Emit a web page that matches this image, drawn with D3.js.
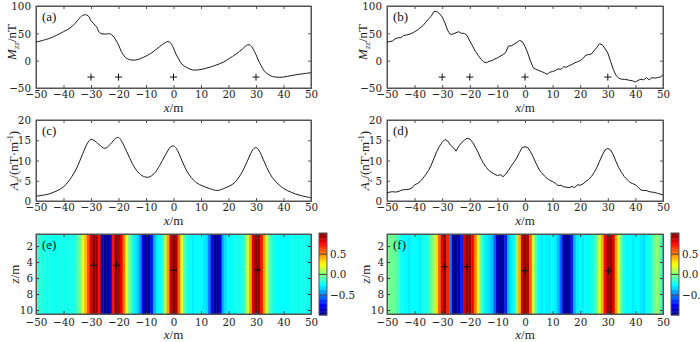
<!DOCTYPE html>
<html><head><meta charset="utf-8">
<script src="https://cdn.jsdelivr.net/npm/d3@7/dist/d3.min.js"></script>
<style>
body{margin:0;background:#fff}svg{display:block}
svg text{font-family:'Liberation Serif','Times New Roman',serif !important;}
svg text.num{font-family:'DejaVu Serif',serif !important;font-stretch:condensed;}
</style>
</head><body>
<svg id="c" width="700" height="342"></svg>
<script>
// ---------------- data ----------------
const xTicks = [-50,-40,-30,-20,-10,0,10,20,30,40,50];
const mTicks = [-50,0,50,100];
const aTicks = [0,5,10,15,20];
const zTicks = [2,4,6,8,10];
const cbTicks = [-0.5,0.0,0.5];
const sourceX = [-30,-20,0,30];

const aX = [-50,-45,-40,-37,-35,-33,-32,-31,-30,-28,-27,-26,-24,-23,-22,-21,-20,-19,-18,-17,-15,-13,-11,-8,-5,-3,-2,-1,0,1,2,3,5,7,10,15,18,20,23,25,27,28,29,30,31,32,33,35,37,40,43,47,50];
const aY = [34,41,53,62,73,83,84,82,73,62,52,49,49,49,45,38,29,17,9,4,1,2,6,14,26,33,35,32,23,11,2,-6,-13,-17,-16,-9,-3,3,13,21,29,28,21,11,-1,-10,-19,-27,-30,-30,-27,-24,-22];

const bX = d3.range(-50,51);
const bY = [34,35,36,40,42,42,46,47,48,50,53,56,60,64,70,76,81,90,90,86,80,69,55,48,49,51,53,50,50,46,36,27,17,10,3,-2,-4,-1,0,3,5,8,11,15,27,27,30,33,37,35,26,14,-1,-13,-16,-18,-20,-22,-25,-21,-20,-18,-15,-16,-11,-12,-9,-7,-4,-2,0,4,10,11,12,18,24,31,29,22,14,-1,-16,-27,-32,-34,-34,-35,-36,-37,-39,-36,-34,-35,-31,-35,-31,-32,-31,-30,-26];

const cX = [-50,-45,-40,-37,-35,-33,-31,-30,-29,-27,-25,-23,-21,-20,-19,-17,-15,-13,-11,-9,-7,-5,-3,-1,0,1,3,5,8,10,13,16,19,22,25,27,29,30,31,33,35,37,40,43,46,50];
const cY = [1.2,1.8,3.5,6,8.4,11.7,14.6,15.2,15,13.9,13,14,15.5,15.7,14.9,12.2,9.3,7.2,6.1,5.9,6.8,8.8,11.3,13.4,13.6,13,10.1,7.2,4.7,3.9,3.1,2.6,3.3,4.4,7.2,10.1,12.8,13.2,12.6,9.7,6.8,4.9,3.1,2.1,1.4,0.8];

const dX = d3.range(-50,51);
const dY = [2.0,2.2,2.3,2.2,2.3,2.6,2.8,2.8,2.9,3.2,4.0,4.3,4.8,5.6,6.5,7.5,8.8,10.5,12.2,13.5,14.5,15.2,14.8,13.8,13.2,12.3,13.5,14.4,15.0,15.5,15.3,14.5,13.3,12.0,10.5,9.3,8.3,7.5,7.0,6.6,6.3,6.5,6.0,6.6,7.6,8.6,9.6,10.6,12.0,13.2,13.4,13.2,12.2,10.8,9.3,7.9,7.0,6.2,5.6,5.1,4.8,4.4,3.8,3.9,3.5,3.4,3.3,3.6,3.3,4.0,3.9,4.2,4.8,5.3,6.0,7.0,8.2,9.8,11.3,12.6,13.0,12.6,11.4,9.7,8.2,7.0,6.0,5.3,4.6,4.3,4.0,3.4,2.7,2.6,2.6,2.3,2.2,2.1,1.9,1.7,1.5];

const gridX = d3.range(-50,51);
const gridZ = d3.range(1,11);
const eVals = [-0.14,-0.16,-0.18,-0.2,-0.21,-0.22,-0.22,-0.22,-0.23,-0.23,-0.23,-0.22,-0.22,-0.21,-0.2,-0.12,0.0,0.2,0.38,0.6,0.82,0.96,0.95,0.72,-0.88,-0.98,-0.98,-0.8,0.72,0.96,0.95,0.78,0.5,0.22,-0.02,-0.2,-0.28,-0.34,-0.5,-0.82,-0.97,-0.97,-0.72,-0.4,-0.28,-0.25,-0.17,0.08,0.45,0.85,0.98,0.9,0.55,0.18,-0.08,-0.2,-0.25,-0.27,-0.25,-0.24,-0.25,-0.27,-0.32,-0.5,-0.8,-0.97,-0.97,-0.75,-0.42,-0.3,-0.25,-0.24,-0.23,-0.23,-0.21,-0.18,-0.08,0.15,0.45,0.8,0.97,0.96,0.72,0.42,0.12,-0.1,-0.19,-0.22,-0.24,-0.25,-0.26,-0.25,-0.24,-0.23,-0.23,-0.22,-0.22,-0.22,-0.21,-0.21,-0.21];
const fVals = [-0.02,-0.02,-0.04,-0.06,-0.12,-0.22,-0.26,-0.24,-0.27,-0.25,-0.26,-0.24,-0.27,-0.23,-0.21,-0.15,-0.05,0.1,0.3,0.55,0.8,0.96,0.7,-0.5,-0.95,-0.98,-0.9,-0.7,0.8,0.96,0.95,0.75,0.5,0.2,-0.02,-0.22,-0.29,-0.31,-0.36,-0.55,-0.88,-0.98,-0.95,-0.7,-0.38,-0.29,-0.22,0.05,0.4,0.85,0.97,0.9,0.55,0.15,-0.12,-0.26,-0.29,-0.24,-0.27,-0.29,-0.25,-0.29,-0.36,-0.55,-0.88,-0.97,-0.95,-0.7,-0.38,-0.29,-0.26,-0.27,-0.24,-0.26,-0.21,-0.17,-0.06,0.15,0.4,0.75,0.95,0.97,0.8,0.45,0.15,-0.1,-0.21,-0.26,-0.25,-0.28,-0.26,-0.24,-0.27,-0.31,-0.26,-0.21,-0.12,-0.02,0.02,-0.08,-0.16];
const eSrcX = [-29,-20.7,0,30.5], eSrcZ = [4.4,4.4,5,5];
const fSrcX = [-29,-21,0,30.3], fSrcZ = [4.6,4.6,5.1,5.1];

// ---------------- drawing ----------------
const svg = d3.select('#c');
const FS = 12.5, NFS = 11.5;
const AX = '#555';
const cols = [{x0:36,x1:311},{x0:387,x1:663}];
const rows = [{y0:6,y1:88},{y0:120,y1:201},{y0:234,y1:314}];

function jet(t){
  t = Math.max(0, Math.min(1, t));
  const c = v => Math.round(255*Math.max(0, Math.min(1, v)));
  return `rgb(${c(1.5-Math.abs(4*t-3))},${c(1.5-Math.abs(4*t-2))},${c(1.5-Math.abs(4*t-1))})`;
}
const cScale = d3.scaleSequential(jet).domain([-1,1]);
const cQuant = v => cScale(Math.round(v*32)/32);

function styleAxis(a, tickCol){
  a.select('.domain').attr('stroke',AX);
  a.selectAll('.tick line').attr('stroke',tickCol||AX);
  a.selectAll('text').attr('class','num').attr('font-size',NFS).attr('fill','#222');
}

function axes(g, x, y, yt, col, row, xBase, yEnd, tickCol){
  const len = 3;
  const bx = g.append('g').attr('transform',`translate(0,${row.y1})`)
    .call(d3.axisBottom(x).tickValues(xTicks).tickSize(-len).tickFormat(d3.format('d')));
  bx.selectAll('.tick text').attr('y',xBase).attr('dy',0);
  const tx = g.append('g').attr('transform',`translate(0,${row.y0})`)
    .call(d3.axisTop(x).tickValues(xTicks).tickSize(-len).tickFormat(''));
  const ly = g.append('g').attr('transform',`translate(${col.x0},0)`)
    .call(d3.axisLeft(y).tickValues(yt).tickSize(-len).tickFormat(d3.format('d')));
  ly.selectAll('.tick text').attr('x',-yEnd);
  const ry = g.append('g').attr('transform',`translate(${col.x1},0)`)
    .call(d3.axisRight(y).tickValues(yt).tickSize(-len).tickFormat(''));
  [bx,tx,ly,ry].forEach(a=>styleAxis(a,tickCol));
  g.append('rect').attr('x',col.x0).attr('y',row.y0).attr('width',col.x1-col.x0).attr('height',row.y1-row.y0)
    .attr('fill','none').attr('stroke',AX).attr('stroke-width',1);
}

function xlabel(g, col, yb){
  const t = g.append('text').attr('x',(col.x0+col.x1)/2).attr('y',yb).attr('text-anchor','middle')
    .attr('font-size',FS+0.5).attr('fill','#222');
  t.append('tspan').attr('font-style','italic').text('x');
  t.append('tspan').text('/m');
}
function panelTag(g, col, row, s){
  g.append('text').attr('x',col.x0+6).attr('y',row.y0+15).attr('font-size',FS+0.5)
    .attr('fill','#111').text(s);
}
function cross(g, px, py){
  g.append('path').attr('d',`M${px-3.5},${py}H${px+3.5}M${px},${py-3.5}V${py+3.5}`).attr('stroke','#111').attr('stroke-width',1);
}

function linePanel(ci, ri, X, Y, dom, yt, tag, ylab, curve, marks){
  const col = cols[ci], row = rows[ri];
  const g = svg.append('g');
  const x = d3.scaleLinear().domain([-50,50]).range([col.x0,col.x1]);
  const y = d3.scaleLinear().domain(dom).range([row.y1,row.y0]);
  axes(g, x, y, yt, col, row, 10, 5);
  const pts = X.map((v,i)=>[v,Y[i]]);
  g.append('path').datum(pts).attr('fill','none').attr('stroke','#1a1a1a').attr('stroke-width',1)
    .attr('d', d3.line().x(d=>x(d[0])).y(d=>y(d[1])).curve(curve));
  if (marks) sourceX.forEach(s=>cross(g, x(s), y(-30)));
  panelTag(g, col, row, tag);
  xlabel(g, col, row.y1+24);
  ylab(g, col.x0-20, (row.y0+row.y1)/2);
}

function ylabM(g, cx, cy){
  const t = g.append('text').attr('transform',`translate(${cx},${cy-5}) rotate(-90)`).attr('text-anchor','middle')
    .attr('font-size',FS+0.5).attr('fill','#222');
  t.append('tspan').attr('font-style','italic').text('M');
  t.append('tspan').attr('font-style','italic').attr('font-size',9).attr('dy',3).text('zz');
  t.append('tspan').attr('dy',-3).text('/nT');
}
function ylabA(g, cx, cy){
  const t = g.append('text').attr('transform',`translate(${cx+2},${cy}) rotate(-90)`).attr('text-anchor','middle')
    .attr('font-size',FS+0.5).attr('fill','#222');
  t.append('tspan').attr('font-style','italic').text('A');
  t.append('tspan').attr('font-style','italic').attr('font-size',9).attr('dy',3).text('z');
  t.append('tspan').attr('dy',-3).text('/(nT·m');
  t.append('tspan').attr('font-size',8).attr('dy',-5).text('-1');
  t.append('tspan').attr('dy',5).text(')');
}
function ylabZ(g, cx, cy){
  const t = g.append('text').attr('transform',`translate(${cx},${cy}) rotate(-90)`).attr('text-anchor','middle')
    .attr('font-size',FS+0.5).attr('fill','#222');
  t.append('tspan').attr('font-style','italic').text('z');
  t.append('tspan').text('/m');
}

linePanel(0,0,aX,aY,[-50,100],mTicks,'(a)',ylabM,d3.curveCatmullRom,true);
linePanel(1,0,bX,bY,[-50,100],mTicks,'(b)',ylabM,d3.curveLinear,true);
linePanel(0,1,cX,cY,[0,20],aTicks,'(c)',ylabA,d3.curveCatmullRom,false);
linePanel(1,1,dX,dY,[0,20],aTicks,'(d)',ylabA,d3.curveLinear,false);

function heatPanel(ci, vals, tag, sx, sz){
  const col = cols[ci], row = rows[2];
  const g = svg.append('g');
  const x = d3.scaleLinear().domain([-50,50]).range([col.x0,col.x1]);
  const z = d3.scaleLinear().domain([0.5,10.5]).range([row.y0,row.y1]);
  const cells = [];
  gridZ.forEach(zz=>gridX.forEach((xx,i)=>cells.push({x:xx,z:zz,v:vals[i]})));
  g.append('g').selectAll('rect').data(cells).join('rect')
    .attr('x',d=>Math.max(col.x0, x(d.x-0.5)))
    .attr('width',d=>Math.min(col.x1, x(d.x+0.5))-Math.max(col.x0, x(d.x-0.5))+0.4)
    .attr('y',d=>z(d.z-0.5)).attr('height',d=>z(d.z+0.5)-z(d.z-0.5)+0.4)
    .attr('fill',d=>cQuant(d.v));
  sx.forEach((s,i)=>cross(g, x(s), z(sz[i])));
  axes(g, x, z, zTicks, col, row, 12, 3, '#333');
  panelTag(g, col, row, tag);
  xlabel(g, col, row.y1+25);
  ylabZ(g, col.x0-17, (row.y0+row.y1)/2);

  // colorbar
  const cbx = col.x1+8, cbw = 8, cy0 = row.y0-1, cy1 = row.y1+1;
  const cb = d3.scaleLinear().domain([-1,1]).range([cy1,cy0]);
  const levels = d3.range(-1,1,2/64);
  g.append('g').selectAll('rect').data(levels).join('rect')
    .attr('x',cbx).attr('width',cbw).attr('y',d=>cb(d+2/64)).attr('height',d=>cb(d)-cb(d+2/64)+0.4)
    .attr('fill',d=>cScale(d+1/64));
  const cba = g.append('g').attr('transform',`translate(${cbx+cbw},0)`)
    .call(d3.axisRight(cb).tickValues(cbTicks).tickSize(-cbw).tickPadding(3).tickFormat(d3.format('.1f')));
  cba.select('.domain').remove();
  cba.selectAll('.tick line').attr('stroke','#444');
  cba.selectAll('text').attr('class','num').attr('font-size',NFS).attr('fill','#222');
  g.append('rect').attr('x',cbx).attr('y',cy0).attr('width',cbw).attr('height',cy1-cy0)
    .attr('fill','none').attr('stroke',AX);
}
heatPanel(0, eVals, '(e)', eSrcX, eSrcZ);
heatPanel(1, fVals, '(f)', fSrcX, fSrcZ);
</script>
</body></html>
